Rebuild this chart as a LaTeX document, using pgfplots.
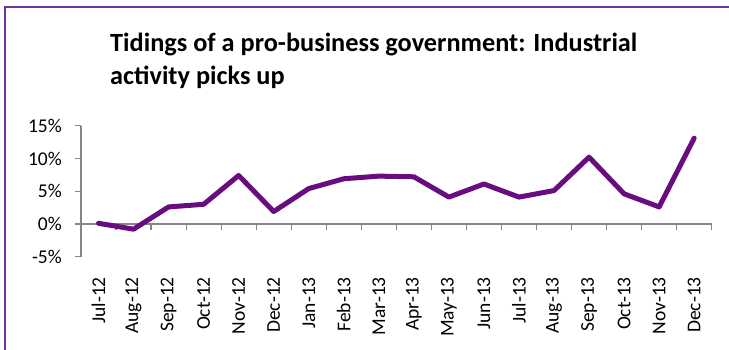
\documentclass[border=0pt]{standalone}
\usepackage{pgfplots}
\pgfplotsset{compat=1.18}
\usepackage{fontspec}
\setmainfont{Carlito}
\definecolor{lineP}{RGB}{104,12,128}
\definecolor{frameP}{RGB}{112,48,160}
\definecolor{axgray}{RGB}{134,134,134}
\begin{document}
\begin{tikzpicture}[x=1pt,y=1pt]
\clip (0,0) rectangle (729,349);
\draw[frameP, line width=1.3pt] (5,-20) -- (5,342) -- (760,342);
\node[anchor=base west, inner sep=0pt, font=\fontsize{26.3}{30}\selectfont\bfseries] at (110,297.3) {Tidings of a pro-business government: Industrial};
\node[anchor=base west, inner sep=0pt, font=\fontsize{26.3}{30}\selectfont\bfseries] at (110,264.2) {activity picks up};
\begin{axis}[
  at={(81pt,92.3pt)}, anchor=south west,
  scale only axis, width=630.7pt, height=131pt,
  xmin=-0.5, xmax=17.5, ymin=-5, ymax=15,
  axis y line=left, axis x line=middle,
  axis line style={-, draw=axgray, line width=1.2pt},
  tick align=outside,
  tick style={draw=axgray, line width=1.2pt},
  major tick length=6pt, minor tick length=6pt,
  ytick={-5,0,5,10,15},
  yticklabel={\pgfmathprintnumber{\tick}\%},
  /pgf/number format/assume math mode=true,
  yticklabel style={font=\fontsize{19.5}{19.5}\selectfont, inner sep=0pt, xshift=-13pt},
  xtick={0,...,17},
  minor xtick={-0.5,0.5,...,17.5},
  every major x tick/.append style={draw=none},
  xticklabels={Jul-12,Aug-12,Sep-12,Oct-12,Nov-12,Dec-12,Jan-13,Feb-13,Mar-13,Apr-13,May-13,Jun-13,Jul-13,Aug-13,Sep-13,Oct-13,Nov-13,Dec-13},
  xticklabel style={font=\fontsize{19.5}{19.5}\selectfont, rotate=90, anchor=east, inner sep=0pt},
  xticklabel shift=47pt,
  clip=false,
]
\addplot[lineP, line width=5pt, line join=round, line cap=round] coordinates {
(0,0.1) (1,-0.8) (2,2.6) (3,3.0) (4,7.4) (5,1.9) (6,5.4) (7,6.9) (8,7.3) (9,7.2)
(10,4.1) (11,6.1) (12,4.1) (13,5.1) (14,10.2) (15,4.6) (16,2.6) (17,13.1)
};
\end{axis}
\end{tikzpicture}
\end{document}
